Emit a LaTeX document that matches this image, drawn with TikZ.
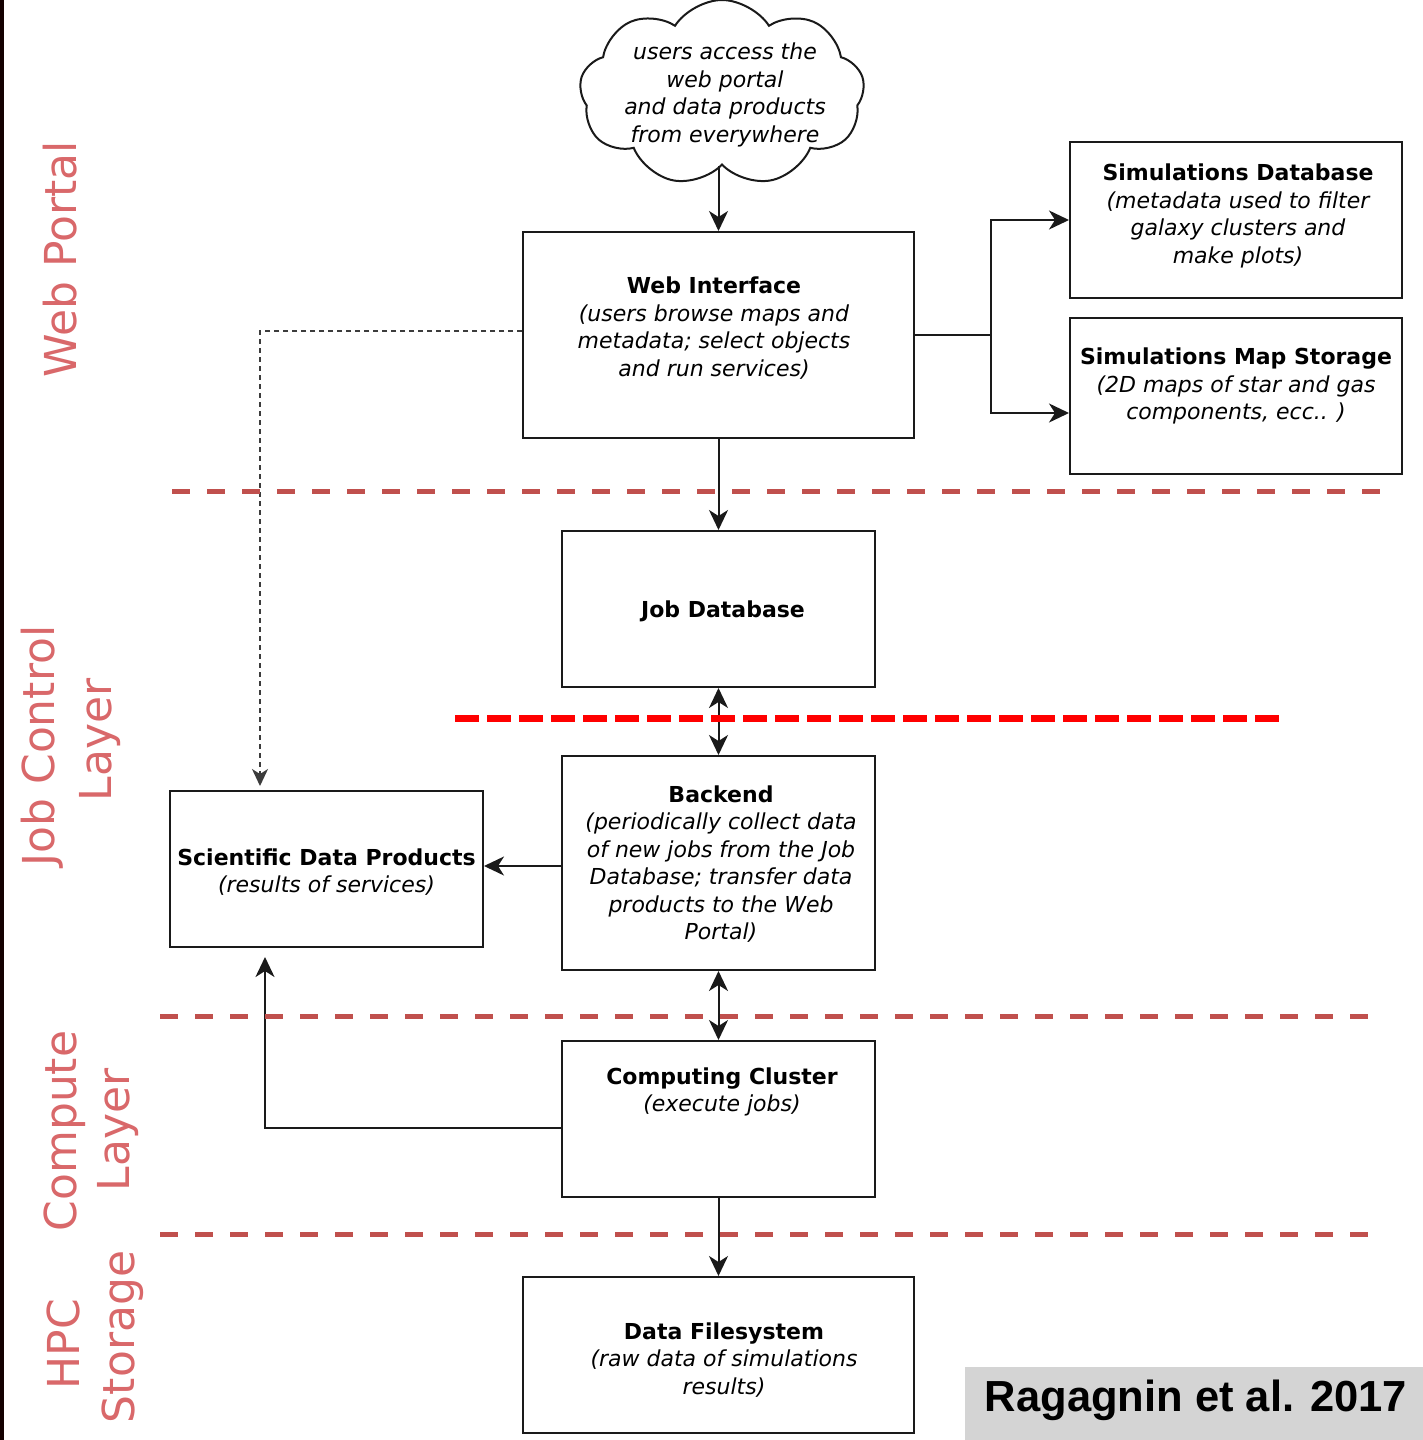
\documentclass[tikz,border=0pt]{standalone}
\usepackage{fontspec}
\setmainfont{DejaVu Sans}
\newfontfamily\arialfont{Liberation Sans}
\usetikzlibrary{shapes.symbols,arrows.meta}
\definecolor{lab}{HTML}{D9686A}
\definecolor{sep}{HTML}{C0504D}
\definecolor{ink}{HTML}{1A1A1A}
\begin{document}
\begin{tikzpicture}[x=1pt,y=-1pt,
  txt/.style={font=\fontsize{22pt}{27.5pt}\selectfont, align=center, inner sep=0pt, text=black},
  box/.style={draw=ink, line width=2pt, inner sep=0pt},
  arr/.style={draw=ink, line width=2pt, -{Stealth[length=20pt,width=19pt,inset=6pt]}},
  darr/.style={draw=ink, line width=2pt, {Stealth[length=20pt,width=19pt,inset=6pt]}-{Stealth[length=20pt,width=19pt,inset=6pt]}},
  dasharr/.style={draw=ink!85, line width=1.6pt, dash pattern=on 5pt off 4pt, -{Stealth[length=17pt,width=16pt,inset=5pt]}},
  layer/.style={text=lab, font=\fontsize{44pt}{50pt}\selectfont, rotate=90, anchor=base, inner sep=0pt},
  sepline/.style={draw=sep, line width=5pt, dash pattern=on 18pt off 17pt},
]
\useasboundingbox (0,0) rectangle (1423,1440);
\fill[white] (0,0) rectangle (1423,1440);
\fill[black!92!red] (0,0) rectangle (4,1440);

% layer labels
\node[layer] (wp) at (76,259) {Web Portal};
\node[layer] (jc1) at (54,746) {Job Control};
\node[layer] (jc2) at (111,740) {Layer};
\node[layer] (cl1) at (76,1131) {Compute};
\node[layer] (cl2) at (129,1130) {Layer};
\node[layer] (hs1) at (79,1344) {HPC};
\node[layer] (hs2) at (134,1337) {Storage};

% cloud
\node[cloud, draw=ink, line width=2pt, cloud puffs=9, cloud puff arc=115, minimum width=285pt, minimum height=186pt] (cloud) at (722,93) {};
\node[txt] (cloudtxt) at (725,95) {\itshape users access the\\\itshape web portal\\\itshape and data products\\\itshape from everywhere};

% boxes
\node[box, minimum width=391pt, minimum height=206pt] (web) at (718.5,335) {};
\node[txt] (webtxt) at (714,328)
  {\textbf{Web Interface}\\\itshape (users browse maps and\\\itshape metadata; select objects\\\itshape and run services)};
\node[box, minimum width=332pt, minimum height=156pt] (simdb) at (1236,220) {};
\node[txt] (simdbtxt) at (1238,216)
  {\textbf{Simulations Database}\\\itshape (metadata used to filter\\\itshape galaxy clusters and\\\itshape make plots)};
\node[box, minimum width=332pt, minimum height=156pt] (simmap) at (1236,396) {};
\node[txt] (simmaptxt) at (1236,386)
  {\textbf{Simulations Map Storage}\\\itshape (2D maps of star and gas\\\itshape components, ecc.. )};
\node[box, minimum width=313pt, minimum height=156pt] (jobdb) at (718.5,609) {};
\node[txt] (jobdbtxt) at (723,611) {\textbf{Job Database}};
\node[box, minimum width=313pt, minimum height=214pt] (backend) at (718.5,863) {};
\node[txt] (backendtxt) at (721,864)
  {\textbf{Backend}\\\itshape (periodically collect data\\\itshape of new jobs from the Job\\\itshape Database; transfer data\\\itshape products to the Web\\\itshape Portal)};
\node[box, minimum width=313pt, minimum height=156pt] (sci) at (326.5,869) {};
\node[txt] (scitxt) at (326.5,872)
  {\textbf{Scientific Data Products}\\\itshape (results of services)};
\node[box, minimum width=313pt, minimum height=156pt] (cc) at (718.5,1119) {};
\node[txt] (cctxt) at (722,1092) {\textbf{Computing Cluster}\\\itshape (execute jobs)};
\node[box, minimum width=391pt, minimum height=156pt] (dfs) at (718.5,1355) {};
\node[txt] (dfstxt) at (724,1360)
  {\textbf{Data Filesystem}\\\itshape (raw data of simulations\\\itshape results)};

% connectors
\coordinate (split) at (991,335);
\draw[arr] (cloud.south -| web.north) -- (web.north);
\draw[draw=ink, line width=2pt] (web.east) -- (split);
\draw[arr] (split) |- (simdb.west);
\draw[arr] (split) |- ([yshift=-17pt]simmap.west);
\draw[arr] (web.south) -- (jobdb.north);
\draw[darr] (jobdb.south) -- (backend.north);
\draw[darr] (backend.south) -- (cc.north);
\draw[arr] ([yshift=-3pt]backend.west) -- ([yshift=-3pt]backend.west -| sci.east);
\draw[arr, shorten >=9pt] ([yshift=-9pt]cc.west) -| ([xshift=-61.5pt]sci.south);
\draw[dasharr, shorten >=4pt] ([yshift=4pt]web.west) -| ([xshift=-66.5pt]sci.north);
\draw[arr] (cc.south) -- (dfs.north);

% separators
\draw[sepline] (172,491) -- (1385,491);
\draw[draw=red, line width=7pt, dash pattern=on 24pt off 8pt] (455,718) -- (1280,718);
\draw[sepline] (160,1016) -- (1372,1016);
\draw[sepline] (160,1234) -- (1372,1234);

% citation
\node[fill=black!17, minimum width=458pt, minimum height=73pt, inner sep=0pt, anchor=north west] (cite) at (965,1367) {};
\node[font=\arialfont\bfseries\fontsize{43.5pt}{50pt}\selectfont, inner sep=0pt] (citetxt) at (1196,1400) {Ragagnin et al. 2017};
\end{tikzpicture}
\end{document}
